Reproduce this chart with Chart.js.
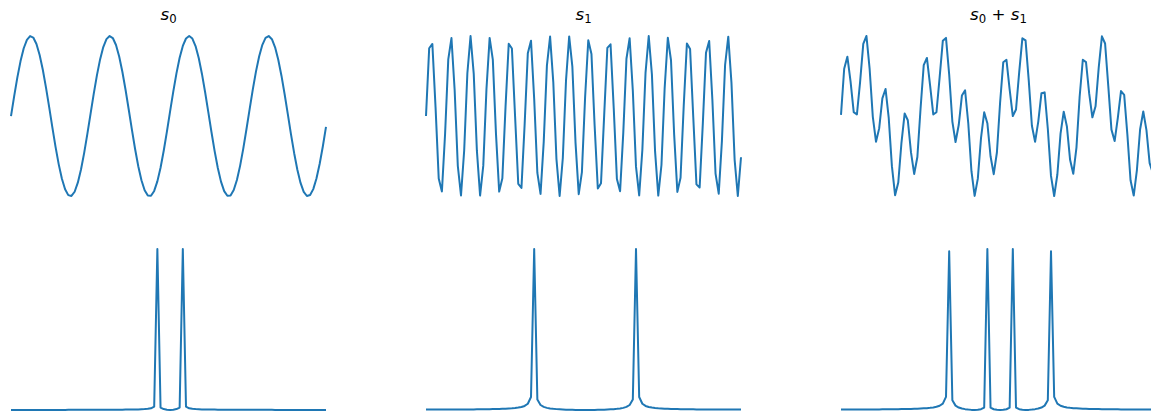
<!DOCTYPE html>
<html>
<head>
<meta charset="utf-8">
<title>s0, s1 and their spectra</title>
<script src="https://cdn.jsdelivr.net/npm/chart.js@4.4.1/dist/chart.umd.min.js"></script>
<style>
  html, body { margin: 0; padding: 0; background: #fff; }
  body { width: 1151px; height: 413px; overflow: hidden; position: relative; font-family: "DejaVu Sans", sans-serif; }
  .panel { position: absolute; width: 327px; }
  .top { top: 30px; height: 172px; }
  .bottom { top: 243px; height: 173px; }
  .ttl { position: absolute; top: 4px; width: 315px; text-align: center; font-size: 16.7px; line-height: 20px; color: #000; }
  .ttl i { font-style: italic; }
  .ttl sub { font-size: 70%; vertical-align: -0.22em; line-height: 0; }
</style>
</head>
<body>

<div class="ttl" style="left:11px"><i>s</i><sub>0</sub></div>
<div class="ttl" style="left:426px"><i>s</i><sub>1</sub></div>
<div class="ttl" style="left:841px"><i>s</i><sub>0</sub> + <i>s</i><sub>1</sub></div>

<div class="panel top" style="left:5px"><canvas id="sig0"></canvas></div>
<div class="panel top" style="left:420px"><canvas id="sig1"></canvas></div>
<div class="panel top" style="left:835px"><canvas id="sigSum"></canvas></div>
<div class="panel bottom" style="left:5px"><canvas id="spec0"></canvas></div>
<div class="panel bottom" style="left:420px"><canvas id="spec1"></canvas></div>
<div class="panel bottom" style="left:835px"><canvas id="specSum"></canvas></div>

<script>
// ---- data ----
const sampleIdx = Array.from({length: 100}, (_, i) => i);
const freqBins = Array.from({length: 100}, (_, i) => i - 50);

const s0 = [
  0, 0.2498, 0.4837, 0.6871, 0.8469, 0.9528, 0.9984, 0.9807, 0.9008, 0.7637,
  0.5783, 0.3561, 0.1114, -0.1404, -0.3833, -0.6020, -0.7822, -0.9132, -0.9860, -0.9964,
  -0.9436, -0.8309, -0.6655, -0.4580, -0.2214, 0.0292, 0.2780, 0.5092, 0.7080, 0.8620,
  0.9613, 0.9996, 0.9746, 0.8878, 0.7447, 0.5542, 0.3287, 0.0823, -0.1693, -0.4101,
  -0.6249, -0.8003, -0.9246, -0.9905, -0.9935, -0.9335, -0.8142, -0.6436, -0.4318, -0.1928,
  0.0584, 0.3060, 0.5341, 0.7285, 0.8765, 0.9690, 1.0000, 0.9676, 0.8739, 0.7246,
  0.5296, 0.3009, 0.0531, -0.1980, -0.4366, -0.6476, -0.8173, -0.9354, -0.9941, -0.9897,
  -0.9226, -0.7971, -0.6208, -0.4053, -0.1640, 0.0876, 0.3337, 0.5586, 0.7482, 0.8902,
  0.9758, 0.9995, 0.9598, 0.8594, 0.7043, 0.5047, 0.2729, 0.0239, -0.2266, -0.4627,
  -0.6694, -0.8338, -0.9453, -0.9968, -0.9851, -0.9109, -0.7789, -0.5977, -0.3784, -0.1351
];

const s1 = [
  0, 0.8469, 0.9008, 0.1114, -0.7822, -0.9436, -0.2214, 0.7080, 0.9746, 0.3287,
  -0.6249, -0.9935, -0.4318, 0.5341, 1.0000, 0.5296, -0.4366, -0.9941, -0.6208, 0.3337,
  0.9758, 0.7043, -0.2266, -0.9453, -0.7789, 0.1167, 0.9031, 0.8440, -0.0053, -0.8497,
  -0.8985, -0.1061, 0.7856, 0.9418, 0.2162, -0.7118, -0.9734, -0.3236, 0.6292, 0.9929,
  0.4271, -0.5387, -1.0000, -0.5251, 0.4414, 0.9946, 0.6165, -0.3387, -0.9769, -0.7005,
  0.2317, 0.9470, 0.7757, -0.1219, -0.9054, -0.8412, 0.0106, 0.8525, 0.8962, 0.1008,
  -0.7887, -0.9400, -0.2111, 0.7155, 0.9721, 0.3186, -0.6332, -0.9922, -0.4222, 0.5430,
  0.9999, 0.5206, -0.4461, -0.9952, -0.6125, 0.3437, 0.9780, 0.6967, -0.2369, -0.9487,
  -0.7722, 0.1272, 0.9076, 0.8383, -0.0159, -0.8550, -0.8938, -0.0956, 0.7920, 0.9382,
  0.2059, -0.7192, -0.9709, -0.3136, 0.6374, 0.9915, 0.4174, -0.5476, -0.9998, -0.5160
];

const s0s1 = [
  0, 1.0967, 1.3845, 0.7985, 0.0647, 0.0092, 0.7770, 1.6887, 1.8754, 1.0924,
  -0.0466, -0.6374, -0.3204, 0.3937, 0.6167, -0.0724, -1.2188, -1.9073, -1.6068, -0.6627,
  0.0322, -0.1266, -0.8921, -1.4033, -1.0003, 0.1459, 1.1811, 1.3532, 0.7027, 0.0123,
  0.0628, 0.8935, 1.7602, 1.8296, 0.9609, -0.1576, -0.6447, -0.2413, 0.4599, 0.5828,
  -0.1978, -1.3390, -1.9246, -1.5156, -0.5521, 0.0611, -0.1977, -0.9823, -1.4087, -0.8933,
  0.2901, 1.2530, 1.3098, 0.6066, -0.0289, 0.1278, 1.0106, 1.8201, 1.7701, 0.8254,
  -0.2591, -0.6391, -0.1580, 0.5175, 0.5355, -0.3290, -1.4505, -1.9276, -1.4163, -0.4467,
  0.0773, -0.2765, -1.0669, -1.4005, -0.7765, 0.4313, 1.3117, 1.2553, 0.5113, -0.0585,
  0.2036, 1.1267, 1.8674, 1.6977, 0.6884, -0.3503, -0.6209, -0.0717, 0.5654, 0.4755,
  -0.4635, -1.5530, -1.9162, -1.3104, -0.3477, 0.0806, -0.3615, -1.1453, -1.3782, -0.6511
];

// |FFT| magnitudes, shifted so bin 0 sits in the middle (bins -50 .. 49)
const fftS0 = [
  0.059, 0.059, 0.059, 0.059, 0.060, 0.060, 0.060, 0.061, 0.061, 0.062,
  0.062, 0.063, 0.064, 0.065, 0.066, 0.067, 0.068, 0.069, 0.070, 0.072,
  0.073, 0.075, 0.077, 0.080, 0.082, 0.085, 0.088, 0.091, 0.095, 0.099,
  0.103, 0.109, 0.115, 0.122, 0.130, 0.138, 0.149, 0.162, 0.178, 0.198,
  0.224, 0.260, 0.313, 0.398, 0.563, 1.051, 49.85, 0.781, 0.308, 0.127,
  0.031, 0.127, 0.308, 0.781, 49.85, 1.051, 0.563, 0.398, 0.313, 0.260,
  0.224, 0.198, 0.178, 0.162, 0.149, 0.138, 0.130, 0.122, 0.115, 0.109,
  0.103, 0.099, 0.095, 0.091, 0.088, 0.085, 0.082, 0.080, 0.077, 0.075,
  0.073, 0.072, 0.070, 0.069, 0.068, 0.067, 0.066, 0.065, 0.064, 0.063,
  0.062, 0.062, 0.061, 0.061, 0.060, 0.060, 0.060, 0.059, 0.059, 0.059
];

const fftS1 = [
  0.255, 0.255, 0.256, 0.257, 0.258, 0.260, 0.263, 0.266, 0.269, 0.273,
  0.277, 0.283, 0.289, 0.295, 0.303, 0.312, 0.322, 0.333, 0.346, 0.361,
  0.378, 0.398, 0.422, 0.450, 0.484, 0.525, 0.578, 0.645, 0.735, 0.862,
  1.053, 1.375, 2.030, 4.098, 49.43, 3.311, 1.657, 1.078, 0.783, 0.603,
  0.482, 0.395, 0.329, 0.277, 0.236, 0.203, 0.177, 0.156, 0.141, 0.131,
  0.128, 0.131, 0.141, 0.156, 0.177, 0.203, 0.236, 0.277, 0.329, 0.395,
  0.482, 0.603, 0.783, 1.078, 1.657, 3.311, 49.43, 4.098, 2.030, 1.375,
  1.053, 0.862, 0.735, 0.645, 0.578, 0.525, 0.484, 0.450, 0.422, 0.398,
  0.378, 0.361, 0.346, 0.333, 0.322, 0.312, 0.303, 0.295, 0.289, 0.283,
  0.277, 0.273, 0.269, 0.266, 0.263, 0.260, 0.258, 0.257, 0.256, 0.255
];

const fftS0S1 = [
  0.314, 0.314, 0.315, 0.316, 0.318, 0.320, 0.323, 0.326, 0.330, 0.335,
  0.340, 0.346, 0.352, 0.360, 0.369, 0.378, 0.389, 0.402, 0.416, 0.432,
  0.451, 0.473, 0.499, 0.529, 0.565, 0.609, 0.664, 0.735, 0.829, 0.959,
  1.154, 1.480, 2.141, 4.216, 49.31, 3.179, 1.515, 0.926, 0.618, 0.426,
  0.291, 0.198, 0.161, 0.220, 0.398, 0.908, 49.98, 0.883, 0.397, 0.220,
  0.160, 0.220, 0.397, 0.883, 49.98, 0.908, 0.398, 0.220, 0.161, 0.198,
  0.291, 0.426, 0.618, 0.926, 1.515, 3.179, 49.31, 4.216, 2.141, 1.480,
  1.154, 0.959, 0.829, 0.735, 0.664, 0.609, 0.565, 0.529, 0.499, 0.473,
  0.451, 0.432, 0.416, 0.402, 0.389, 0.378, 0.369, 0.360, 0.352, 0.346,
  0.340, 0.335, 0.330, 0.326, 0.323, 0.320, 0.318, 0.316, 0.315, 0.314
];

// ---- drawing ----
function drawPanel(id, labels, values) {
  new Chart(document.getElementById(id), {
    type: 'line',
    data: {
      labels,
      datasets: [{
        data: values,
        borderColor: '#1f77b4',
        borderWidth: 2,
        pointRadius: 0,
        tension: 0,
        fill: false,
        borderJoinStyle: 'round',
        clip: false
      }]
    },
    options: {
      responsive: true,
      maintainAspectRatio: false,
      animation: false,
      events: [],
      layout: { padding: 6 },
      plugins: { legend: { display: false }, tooltip: { enabled: false } },
      scales: {
        x: { display: false, offset: false },
        y: { display: false, min: Math.min(...values), max: Math.max(...values) }
      }
    }
  });
}

drawPanel('sig0', sampleIdx, s0);
drawPanel('sig1', sampleIdx, s1);
drawPanel('sigSum', sampleIdx, s0s1);
drawPanel('spec0', freqBins, fftS0);
drawPanel('spec1', freqBins, fftS1);
drawPanel('specSum', freqBins, fftS0S1);
</script>
</body>
</html>
